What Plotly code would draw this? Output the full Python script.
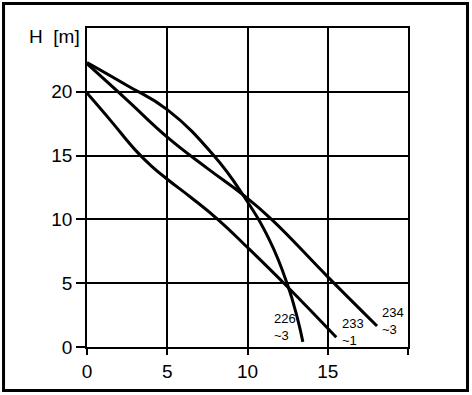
import plotly.graph_objects as go

# Pump curves (Q in l/s, H in m)
q_226 = [0, 2.5, 5, 7.9, 9.7, 11.4, 12.5, 13.1, 13.45]
h_226 = [22.3, 20.5, 18.6, 15.0, 11.95, 8.3, 4.85, 2.3, 0.4]

q_233 = [0, 1.5, 3, 4, 5, 6.5, 8.2, 10, 12.5, 15.53]
h_233 = [19.9, 17.7, 15.45, 14.2, 13.15, 11.7, 9.95, 7.8, 4.7, 0.76]

q_234 = [0, 2.5, 5, 7.5, 9.7, 11.5, 15, 18.07]
h_234 = [22.2, 19.35, 16.45, 14.0, 11.95, 10.0, 5.5, 1.65]

x_ticks = [0, 5, 10, 15, 20]
x_ticktext = ["0", "5", "10", "15", ""]
y_ticks = [0, 5, 10, 15, 20]
y_ticktext = ["0", "5", "10", "15", "20"]

labels = [
    # (text, x, y)
    ("226<br>~3", 11.57, 1.6),
    ("233<br>~1", 15.85, 1.21),
    ("234<br>~3", 18.34, 2.0),
]

FONT = "Arial, Liberation Sans, sans-serif"

fig = go.Figure()
for q, h in [(q_226, h_226), (q_233, h_233), (q_234, h_234)]:
    fig.add_trace(go.Scatter(x=q, y=h, mode="lines",
                             line=dict(color="black", width=3, shape="spline", smoothing=1.3),
                             showlegend=False, hoverinfo="skip"))

annotations = []
for txt, x, yy in labels:
    annotations.append(dict(x=x, y=yy, xref="x", yref="y", text=txt, showarrow=False,
                            xanchor="left", yanchor="middle", align="left", borderpad=0,
                            font=dict(size=13, color="black", family=FONT)))

annotations.append(dict(x=-0.017, xref="paper", y=24.33, yref="y", text="H  [m]",
                        showarrow=False, xanchor="right", yanchor="middle",
                        font=dict(size=19, color="black", family=FONT)))
annotations.append(dict(x=17.45, xref="x", y=-1.96, yref="y", text="Q  [l/s]",
                        showarrow=False, xanchor="left", yanchor="middle",
                        font=dict(size=19, color="black", family=FONT)))

fig.update_layout(
    width=472, height=395,
    margin=dict(l=87, r=64, t=28, b=48),
    paper_bgcolor="white", plot_bgcolor="white",
    font=dict(family=FONT, size=19, color="black"),
    annotations=annotations,
    shapes=[dict(type="rect", xref="paper", yref="paper",
                 x0=-0.260, x1=1.1854, y0=-0.1364, y1=1.0768,
                 line=dict(color="black", width=3))],
    xaxis=dict(range=[0, 20], tickvals=x_ticks, ticktext=x_ticktext,
               showgrid=True, gridcolor="black", gridwidth=1.5,
               zeroline=False, showline=True, mirror=True, linecolor="black", linewidth=1.5,
               ticks="outside", ticklen=6, tickwidth=1.5, tickcolor="black",
               tickfont=dict(size=19, color="black", family=FONT), fixedrange=True),
    yaxis=dict(range=[0, 25], tickvals=y_ticks, ticktext=y_ticktext,
               showgrid=True, gridcolor="black", gridwidth=1.5,
               zeroline=False, showline=True, mirror=True, linecolor="black", linewidth=1.5,
               ticks="outside", ticklen=9, tickwidth=1.5, tickcolor="black",
               tickfont=dict(size=19, color="black", family=FONT), fixedrange=True),
)

fig.write_html("out.html", config={"displayModeBar": False},
               post_script="document.body.style.margin='0';document.body.style.overflow='hidden';")
